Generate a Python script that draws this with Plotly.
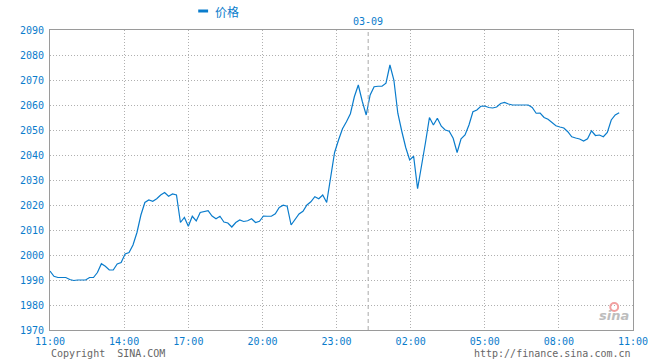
import plotly.graph_objects as go

# price samples, evenly spaced in time from 11:00 (day 1) to ~10:40 (03-09)
prices = [
    1993.6, 1991.5, 1991.0, 1991.0, 1991.0, 1990.2, 1989.8, 1990.0, 1990.0, 1990.0,
    1991.0, 1991.0, 1993.0, 1996.5, 1995.5, 1994.0, 1994.0, 1996.4, 1997.0, 2000.4,
    2001.0, 2004.0, 2009.0, 2016.0, 2021.0, 2022.0, 2021.5, 2022.5, 2024.0, 2025.0,
    2023.5, 2024.4, 2024.0, 2013.0, 2015.0, 2011.5, 2015.5, 2013.6, 2017.0, 2017.5,
    2017.7, 2015.6, 2014.5, 2015.5, 2013.2, 2012.8, 2011.2, 2013.0, 2014.0, 2013.4,
    2013.7, 2014.5, 2013.0, 2013.5, 2015.6, 2015.5, 2015.5, 2016.5, 2019.0, 2019.9,
    2019.5, 2012.0, 2014.2, 2016.4, 2017.5, 2020.0, 2021.3, 2023.3, 2022.5, 2024.0,
    2021.0, 2031.0, 2041.0, 2046.0, 2050.5, 2053.3, 2056.5, 2063.3, 2068.0, 2061.5,
    2056.0, 2064.0, 2067.3, 2067.5, 2067.5, 2068.7, 2076.0, 2070.0, 2056.7, 2049.5,
    2043.0, 2038.0, 2039.5, 2026.5, 2035.0, 2045.0, 2055.0, 2052.0, 2054.7, 2051.5,
    2050.0, 2049.5, 2046.7, 2041.0, 2046.5, 2048.0, 2052.0, 2057.3, 2058.0, 2059.5,
    2059.6, 2059.0, 2058.8, 2059.2, 2060.6, 2061.0, 2060.4, 2060.0, 2060.0, 2060.0,
    2060.0, 2060.0, 2059.0, 2056.7, 2056.8, 2055.0, 2054.3, 2053.0, 2051.7, 2051.2,
    2050.8, 2049.3, 2047.3, 2046.8, 2046.4, 2045.6, 2046.5, 2049.7, 2047.8, 2048.0,
    2047.3, 2049.0, 2054.0, 2056.0, 2056.9,
]
sample_index = list(range(len(prices)))

# x tick labels and their positions (in sample units)
tick_labels = ["11:00", "14:00", "17:00", "20:00", "23:00", "02:00", "05:00", "08:00", "11:00"]
tick_positions = [0, 18.75, 35, 53.75, 72.5, 91.25, 110, 128.75, 147.5]
day_break = 80.5
day_label = "03-09"
y_ticks = list(range(1970, 2091, 10))

blue = "#0a7ccc"
mono = "DejaVu Sans Mono"
grid_col = "#b0b0b0"

fig = go.Figure()
fig.add_trace(go.Scatter(
    x=sample_index, y=prices, mode="lines",
    line=dict(color=blue, width=1.2), name="价格", showlegend=False,
    hoverinfo="skip",
))

fig.update_layout(
    width=660, height=360,
    margin=dict(l=50, r=20, t=30, b=30),
    paper_bgcolor="white", plot_bgcolor="white",
    font=dict(family=mono, size=10, color=blue),
    xaxis=dict(
        range=[0, 147.5], tickmode="array", tickvals=tick_positions, ticktext=tick_labels,
        showgrid=True, gridcolor=grid_col, griddash="1px,2px", gridwidth=1,
        showline=True, linecolor="#9a9a9a", linewidth=1, mirror=True,
        ticks="", zeroline=False, tickfont=dict(family=mono, size=10, color=blue),
        ticklabelstandoff=2,
    ),
    yaxis=dict(
        range=[1970, 2090], tickmode="array", tickvals=y_ticks,
        showgrid=True, gridcolor=grid_col, griddash="1px,2px", gridwidth=1,
        showline=True, linecolor="#9a9a9a", linewidth=1, mirror=True,
        ticks="", zeroline=False, tickfont=dict(family=mono, size=10, color=blue),
        ticklabelstandoff=3,
    ),
)

# day separator
fig.add_shape(type="line", xref="x", yref="paper", x0=day_break, x1=day_break, y0=0, y1=1,
              line=dict(color="#aaaaaa", width=1, dash="4px,3px"))
fig.add_annotation(xref="x", yref="paper", x=day_break, y=1, yanchor="bottom", yshift=1,
                   text=day_label, showarrow=False,
                   font=dict(family=mono, size=10, color=blue))

# legend-like header
fig.add_shape(type="line", xref="paper", yref="paper",
              x0=(200 - 50) / 590, x1=(210 - 50) / 590, y0=(330 - 11) / 300, y1=(330 - 11) / 300,
              line=dict(color=blue, width=3))
fig.add_annotation(xref="paper", yref="paper", x=(215 - 50) / 590, y=(330 - 11) / 300,
                   xanchor="left", yanchor="middle", text="价格", showarrow=False,
                   font=dict(family="Noto Sans CJK SC", size=12, color=blue))

# footer texts
fig.add_annotation(xref="paper", yref="paper", x=(49 - 50) / 590, y=(330 - 353) / 300,
                   xanchor="left", yanchor="middle", text="Copyright&nbsp;&nbsp;SINA.COM",
                   showarrow=False, font=dict(family=mono, size=10, color="#666666"))
fig.add_annotation(xref="paper", yref="paper", x=1, y=(330 - 353) / 300,
                   xanchor="right", yanchor="middle", text="http://finance.sina.com.cn",
                   showarrow=False, font=dict(family=mono, size=10, color="#666666"))

# sina watermark
fig.add_shape(type="circle", xref="paper", yref="paper",
              x0=(617 - 50) / 590, x1=(625 - 50) / 590, y0=(330 - 311) / 300, y1=(330 - 303) / 300,
              line=dict(color="#f2a0a0", width=2))
fig.add_annotation(xref="paper", yref="paper", x=(638 - 50) / 590, y=(330 - 315) / 300,
                   xanchor="right", yanchor="middle", text="<b><i>sina</i></b>", showarrow=False,
                   font=dict(family="DejaVu Sans", size=13, color="#bdbdbd"))

fig.write_html("out.html", config={"displayModeBar": False},
               post_script="document.body.style.margin='0px';")
